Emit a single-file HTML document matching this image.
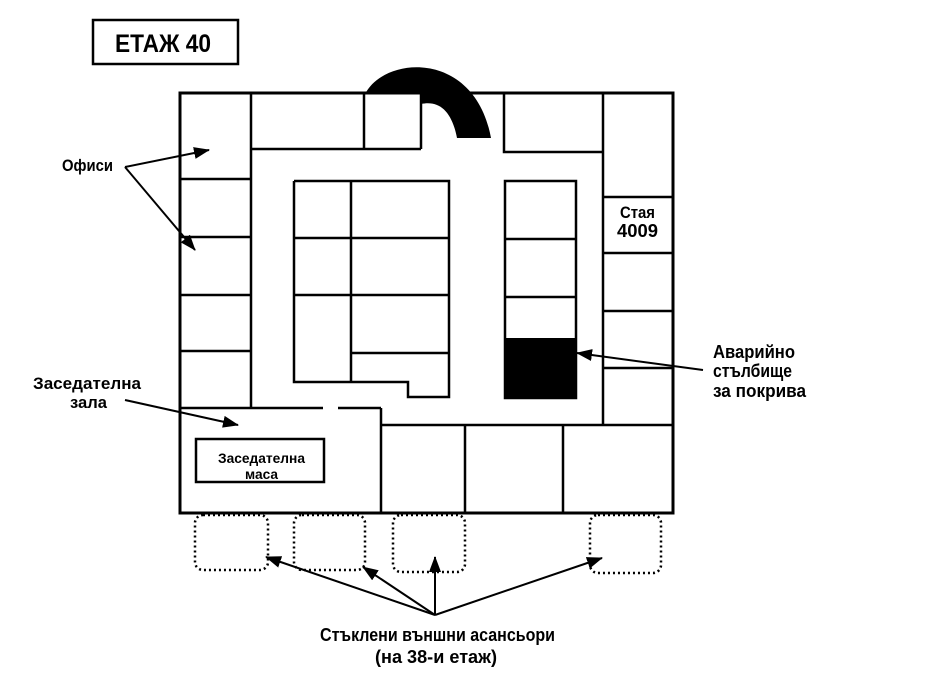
<!DOCTYPE html>
<html><head><meta charset="utf-8"><style>
html,body{margin:0;padding:0;background:#fff;}
svg{display:block;}
text{font-family:"Liberation Sans",sans-serif;font-weight:bold;fill:#000;}
</style></head><body>
<svg width="952" height="684" viewBox="0 0 952 684" xmlns="http://www.w3.org/2000/svg">
<defs><marker id="b" markerWidth="16" markerHeight="12" refX="15" refY="6" orient="auto" markerUnits="userSpaceOnUse"><path d="M0,0 L16,6 L0,12 Z" fill="#000"/></marker></defs>
<g fill="none" stroke="#000" stroke-width="2.5">
<rect x="93" y="20" width="145" height="44"/>
<rect x="180" y="93" width="493" height="420" stroke-width="3"/>
<line x1="251" y1="93" x2="251" y2="408"/>
<line x1="180" y1="179" x2="251" y2="179"/>
<line x1="180" y1="237" x2="251" y2="237"/>
<line x1="180" y1="295" x2="251" y2="295"/>
<line x1="180" y1="351" x2="251" y2="351"/>
<line x1="251" y1="149" x2="421" y2="149"/>
<line x1="364" y1="93" x2="364" y2="149"/>
<line x1="421" y1="93" x2="421" y2="149"/>
<polyline points="504,93 504,152 603,152"/>
<line x1="603" y1="93" x2="603" y2="425"/>
<line x1="603" y1="197" x2="673" y2="197"/>
<line x1="603" y1="253" x2="673" y2="253"/>
<line x1="603" y1="311" x2="673" y2="311"/>
<line x1="603" y1="368" x2="673" y2="368"/>
<line x1="381" y1="425" x2="673" y2="425"/>
<line x1="381" y1="408" x2="381" y2="513"/>
<line x1="465" y1="425" x2="465" y2="513"/>
<line x1="563" y1="425" x2="563" y2="513"/>
<line x1="180" y1="408" x2="323" y2="408"/>
<line x1="338" y1="408" x2="381" y2="408"/>
<rect x="196" y="439" width="128" height="43"/>
<polyline points="294,181 449,181 449,397 408,397 408,382 294,382 294,181"/>
<line x1="351" y1="181" x2="351" y2="382"/>
<line x1="294" y1="238" x2="449" y2="238"/>
<line x1="294" y1="295" x2="449" y2="295"/>
<line x1="351" y1="353" x2="449" y2="353"/>
<rect x="505" y="181" width="71" height="217"/>
<line x1="505" y1="239" x2="576" y2="239"/>
<line x1="505" y1="297" x2="576" y2="297"/>
</g>
<rect x="505" y="338" width="71" height="60" fill="#000"/>
<path d="M365,94 C385,55 475,50 491,138 L457,138 C452,112 440,100 421,104 L421,94 Z" fill="#000"/>
<g fill="none" stroke="#000" stroke-width="2.5" stroke-dasharray="2,3">
<rect x="195" y="515" width="73" height="55" rx="8"/>
<rect x="294" y="515" width="71" height="55" rx="8"/>
<rect x="393" y="515" width="72" height="57" rx="8"/>
<rect x="590" y="515" width="71" height="58" rx="8"/>
</g>
<g stroke="#000" stroke-width="2">
<line x1="435" y1="615" x2="266" y2="557" marker-end="url(#b)"/>
<line x1="435" y1="615" x2="363" y2="567" marker-end="url(#b)"/>
<line x1="435" y1="615" x2="435" y2="557" marker-end="url(#b)"/>
<line x1="435" y1="615" x2="602" y2="558" marker-end="url(#b)"/>
<line x1="125" y1="167" x2="209" y2="150" marker-end="url(#b)"/>
<line x1="125" y1="167" x2="195" y2="250" marker-end="url(#b)"/>
<line x1="125" y1="400" x2="238" y2="425" marker-end="url(#b)"/>
<line x1="703" y1="370" x2="577" y2="353" marker-end="url(#b)"/>
</g>
<text x="115" y="52" font-size="25" textLength="96" lengthAdjust="spacingAndGlyphs">ЕТАЖ 40</text>
<text x="62" y="171" font-size="17" textLength="51" lengthAdjust="spacingAndGlyphs">Офиси</text>
<text x="33" y="389" font-size="17" textLength="108" lengthAdjust="spacingAndGlyphs">Заседателна</text>
<text x="70" y="408" font-size="17" textLength="37" lengthAdjust="spacingAndGlyphs">зала</text>
<text x="218" y="463" font-size="14" textLength="87" lengthAdjust="spacingAndGlyphs">Заседателна</text>
<text x="245" y="479" font-size="14" textLength="33" lengthAdjust="spacingAndGlyphs">маса</text>
<text x="620" y="218" font-size="17" textLength="35" lengthAdjust="spacingAndGlyphs">Стая</text>
<text x="617" y="237" font-size="18" textLength="41" lengthAdjust="spacingAndGlyphs">4009</text>
<text x="713" y="358" font-size="18" textLength="82" lengthAdjust="spacingAndGlyphs">Аварийно</text>
<text x="713" y="377" font-size="18" textLength="79" lengthAdjust="spacingAndGlyphs">стълбище</text>
<text x="713" y="397" font-size="18" textLength="93" lengthAdjust="spacingAndGlyphs">за покрива</text>
<text x="320" y="641" font-size="18" textLength="235" lengthAdjust="spacingAndGlyphs">Стъклени външни асансьори</text>
<text x="375" y="663" font-size="18" textLength="122" lengthAdjust="spacingAndGlyphs">(на 38-и етаж)</text>
</svg>
</body></html>
